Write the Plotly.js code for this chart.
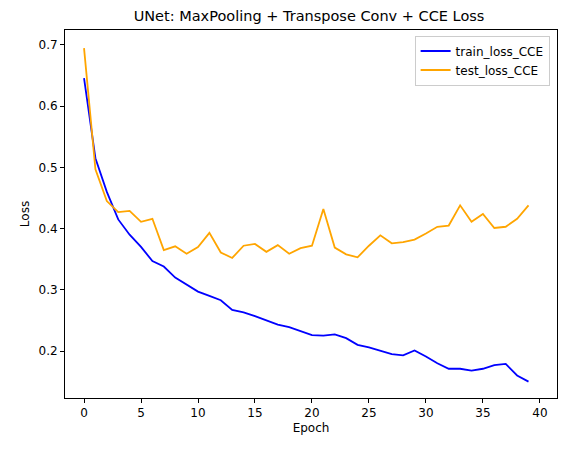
<html><head><script src="https://cdn.plot.ly/plotly-3.0.1.min.js"></script></head><body style="margin:0">
<div id="c" style="width:567px;height:453px"></div>
<script>
const epochs=[...Array(40).keys()];
const train=[0.646,0.515,0.46,0.415,0.39,0.37,0.347,0.338,0.32,0.308,0.297,0.29,0.283,0.267,0.263,0.257,0.25,0.243,0.239,0.233,0.226,0.225,0.227,0.221,0.21,0.206,0.2,0.195,0.193,0.201,0.191,0.18,0.171,0.171,0.168,0.171,0.177,0.179,0.16,0.15];
const test=[0.695,0.497,0.445,0.427,0.429,0.411,0.416,0.365,0.371,0.359,0.37,0.393,0.361,0.352,0.372,0.375,0.362,0.373,0.359,0.368,0.372,0.432,0.369,0.358,0.353,0.372,0.389,0.376,0.378,0.382,0.392,0.403,0.405,0.438,0.411,0.424,0.401,0.403,0.416,0.438];
const ax={showgrid:false,zeroline:false,showline:true,mirror:true,linecolor:'black',linewidth:1,ticks:'outside',ticklen:4,tickcolor:'black',tickfont:{size:12,color:'black'}};
Plotly.newPlot('c',[
{x:epochs,y:train,mode:'lines',name:'train_loss_CCE',line:{color:'blue',width:1.8}},
{x:epochs,y:test,mode:'lines',name:'test_loss_CCE',line:{color:'orange',width:1.8}}],
{width:567,height:453,margin:{l:65,r:10,t:30,b:55},paper_bgcolor:'white',plot_bgcolor:'white',
font:{family:'DejaVu Sans',color:'black'},
title:{text:'UNet: MaxPooling + Transpose Conv + CCE Loss',font:{size:14.5},x:0.545,xanchor:'center',y:0.975,yanchor:'top'},
xaxis:Object.assign({},ax,{range:[-1.67,41.5],tickvals:[0,5,10,15,20,25,30,35,40],title:{text:'Epoch',font:{size:12},standoff:4}}),
yaxis:Object.assign({},ax,{range:[0.1232,0.7245],tickvals:[0.2,0.3,0.4,0.5,0.6,0.7],tickformat:'.1f',title:{text:'Loss',font:{size:12},standoff:6}}),
legend:{x:0.985,y:0.985,xanchor:'right',yanchor:'top',bordercolor:'#ccc',borderwidth:1,font:{size:12}},showlegend:true
},{displayModeBar:false});
</script></body></html>
